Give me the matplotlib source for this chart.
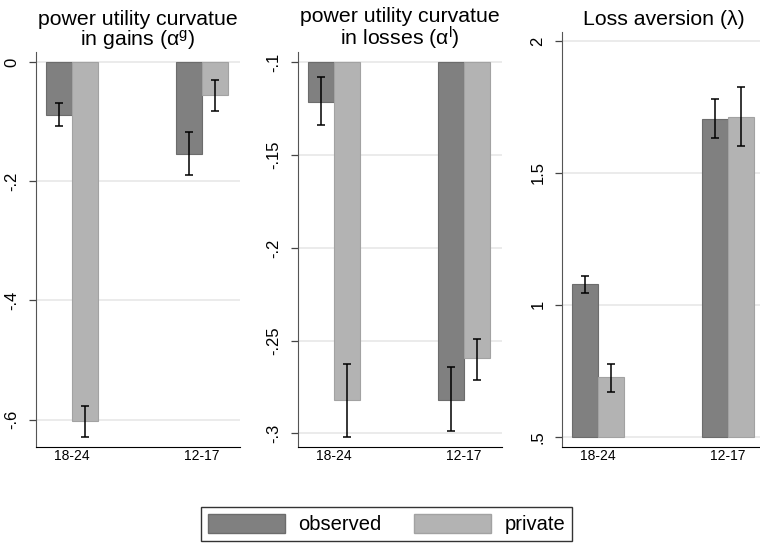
import numpy as np
import matplotlib
matplotlib.use('Agg')
import matplotlib.pyplot as plt
from matplotlib.patches import Patch

plt.rcParams['font.family'] = ['Liberation Sans', 'DejaVu Sans']
plt.rcParams['mathtext.fontset'] = 'custom'
plt.rcParams['mathtext.rm'] = 'Liberation Sans'
plt.rcParams['mathtext.it'] = 'Liberation Sans:italic'

groups = ['18-24', '12-17']
series = ['observed', 'private']

# gains
gain_obs = [-0.089, -0.154]
gain_obs_lo = [-0.108, -0.190]
gain_obs_hi = [-0.069, -0.117]
gain_prv = [-0.603, -0.056]
gain_prv_lo = [-0.629, -0.082]
gain_prv_hi = [-0.577, -0.030]

# losses
loss_obs = [-0.1212, -0.2819]
loss_obs_lo = [-0.134, -0.2987]
loss_obs_hi = [-0.108, -0.2644]
loss_prv = [-0.2822, -0.2596]
loss_prv_lo = [-0.3018, -0.271]
loss_prv_hi = [-0.2627, -0.249]

# loss aversion
lam_obs = [1.0795, 1.706]
lam_obs_lo = [1.045, 1.634]
lam_obs_hi = [1.111, 1.779]
lam_prv = [0.7246, 1.712]
lam_prv_lo = [0.671, 1.600]
lam_prv_hi = [0.775, 1.824]

titles = ['power utility curvatue\nin gains (α$^{\\mathrm{g}}$)',
          'power utility curvatue\nin losses (α$^{\\mathrm{l}}$)',
          'Loss aversion (λ)']
yticks = [[0, -0.2, -0.4, -0.6], [-0.1, -0.15, -0.2, -0.25, -0.3], [0.5, 1, 1.5, 2]]
yticklabels = [['0', '-.2', '-.4', '-.6'], ['-.1', '-.15', '-.2', '-.25', '-.3'],
               ['.5', '1', '1.5', '2']]
ylims = [(-0.6455, 0.0168), (-0.3072, -0.09445), (0.4621, 2.034)]
bases = [0, -0.1, 0.5]

c_obs, e_obs = '#808080', '#6c6c6c'
c_prv, e_prv = '#b3b3b3', '#a2a2a2'

W, H = 760, 549
fig = plt.figure(figsize=(7.6, 5.49), dpi=100)

lefts = [36, 298, 562]
tops = [52, 52, 32]
title_pads = [1.5, 1.5, 5]
bottom_px = 446.7
width_px = 204

data = [
    (gain_obs, gain_obs_lo, gain_obs_hi, gain_prv, gain_prv_lo, gain_prv_hi),
    (loss_obs, loss_obs_lo, loss_obs_hi, loss_prv, loss_prv_lo, loss_prv_hi),
    (lam_obs, lam_obs_lo, lam_obs_hi, lam_prv, lam_prv_lo, lam_prv_hi),
]

x = np.arange(len(groups))
bw = 0.2
for i in range(3):
    ax = fig.add_axes([lefts[i] / W, 1 - bottom_px / H, width_px / W, (bottom_px - tops[i]) / H])
    obs, olo, ohi, prv, plo, phi = data[i]
    base = bases[i]
    ax.bar(x - bw / 2, np.array(obs) - base, bw, bottom=base, color=c_obs,
           edgecolor=e_obs, linewidth=0.8, zorder=2)
    ax.bar(x + bw / 2, np.array(prv) - base, bw, bottom=base, color=c_prv,
           edgecolor=e_prv, linewidth=0.8, zorder=2)
    ax.errorbar(x - bw / 2, (np.array(olo) + np.array(ohi)) / 2,
                yerr=(np.array(ohi) - np.array(olo)) / 2, fmt='none', ecolor='black',
                elinewidth=1.1, capsize=3, capthick=1.1, zorder=3)
    ax.errorbar(x + bw / 2, (np.array(plo) + np.array(phi)) / 2,
                yerr=(np.array(phi) - np.array(plo)) / 2, fmt='none', ecolor='black',
                elinewidth=1.1, capsize=3, capthick=1.1, zorder=3)
    ax.set_xlim(-36 / 130, 1 + 38 / 130)
    ax.set_ylim(*ylims[i])
    ax.set_xticks(x)
    ax.set_xticklabels(groups, fontsize=10)
    ax.set_yticks(yticks[i])
    ax.set_yticklabels(yticklabels[i], fontsize=12, rotation=90, va='center')
    ax.tick_params(axis='x', length=0, pad=2)
    ax.tick_params(axis='y', length=5, width=0.9, color='#444444', pad=7)
    for t in yticks[i]:
        ax.axhline(t, color='#e8e8e8', linewidth=1.2, zorder=1)
    ax.spines['top'].set_visible(False)
    ax.spines['right'].set_visible(False)
    ax.spines['left'].set_color('#555555')
    ax.spines['bottom'].set_color('black')
    ax.set_title(titles[i], fontsize=15.3, pad=title_pads[i], linespacing=0.95)

handles = [Patch(facecolor=c_obs, edgecolor=e_obs, label=series[0]),
           Patch(facecolor=c_prv, edgecolor=e_prv, label=series[1])]
leg = fig.legend(handles=handles, loc='center', bbox_to_anchor=(386.5 / W, 1 - 524 / H),
                 ncol=2, fontsize=14.5, frameon=True, fancybox=False, edgecolor='black',
                 handlelength=3.83, handleheight=1.05, handletextpad=0.65,
                 columnspacing=1.64, borderpad=0.35)
leg.get_frame().set_linewidth(1.0)

fig.savefig('out.png', dpi=100)
